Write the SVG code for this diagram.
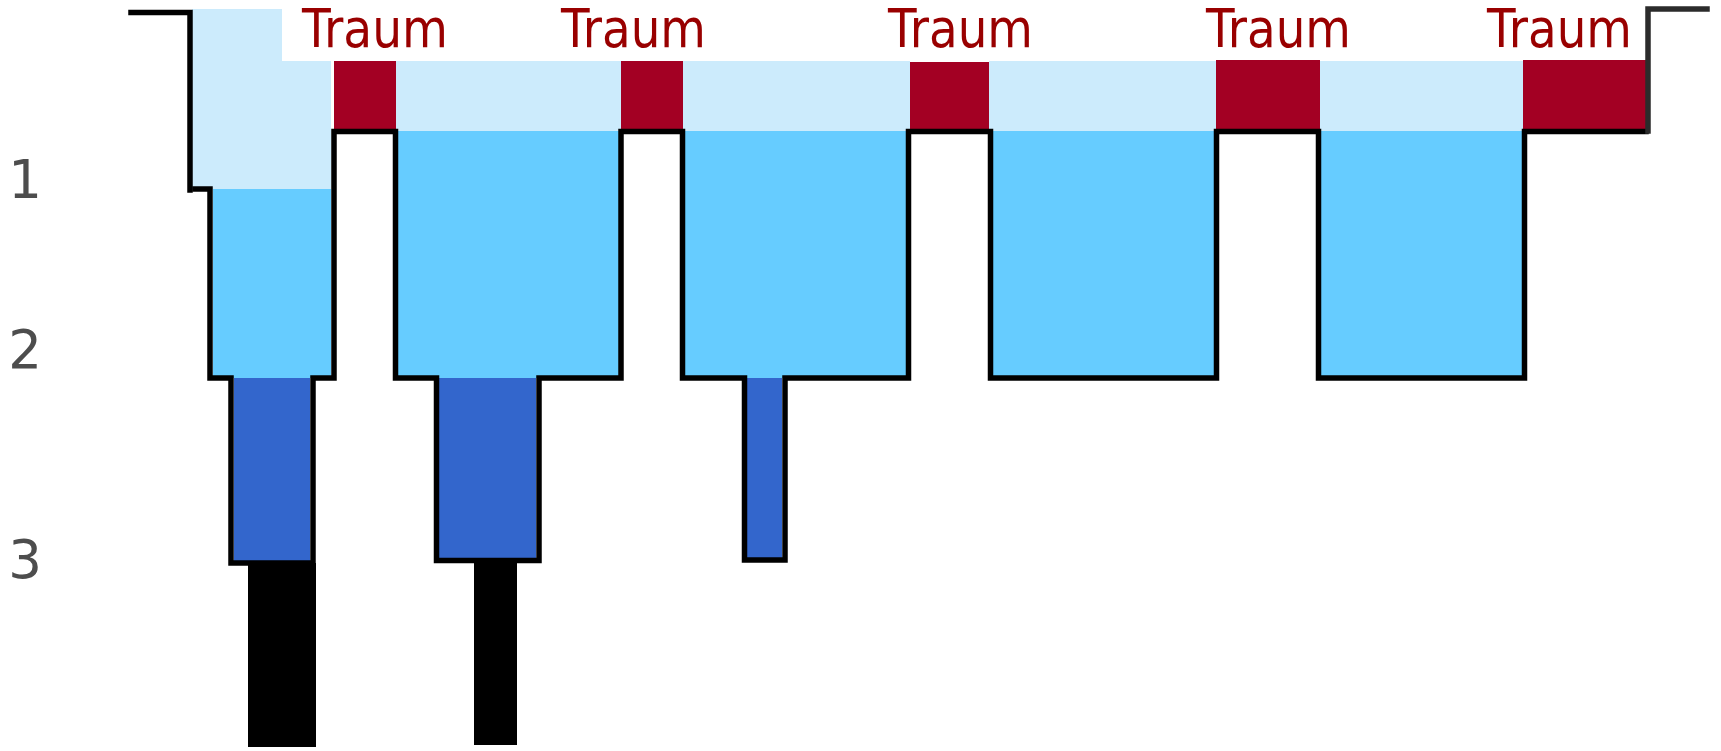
<svg xmlns="http://www.w3.org/2000/svg" width="1721" height="751" viewBox="0 0 1721 751">
<style>
.l1{fill:#CCEBFC}
.l2{fill:#66CCFF}
.l3{fill:#3366CC}
.l4{fill:#000000}
.rem{fill:#A30023}
.lbl{font-family:"DejaVu Sans","Liberation Sans",sans-serif;font-size:54px;fill:#990000}
.num{font-family:"DejaVu Sans","Liberation Sans",sans-serif;font-size:53px;fill:#4D4D4D;text-anchor:middle}
.line{fill:none;stroke:#000;stroke-width:5.5;stroke-linejoin:miter;stroke-linecap:square}
</style>
<rect width="1721" height="751" fill="#fff"/>
<g id="axis">
<text class="num" x="25" y="198">1</text>
<text class="num" x="25" y="368">2</text>
<text class="num" x="25" y="578">3</text>
</g>
<g id="cycle1">
<polygon class="l1" points="192,9 282,9 282,61 331,61 331,189 192,189"/>
<rect class="l2" x="213" y="189" width="118" height="189"/>
<rect class="l3" x="234" y="378" width="76" height="185"/>
<rect class="l4" x="248" y="563" width="68" height="184"/>
</g>
<g id="rem1">
<rect class="rem" x="334" y="61" width="62" height="70"/>
<text class="lbl" x="302" y="47" textLength="146" lengthAdjust="spacingAndGlyphs">Traum</text>
</g>
<g id="cycle2">
<rect class="l1" x="396" y="61" width="225" height="70"/>
<rect class="l2" x="396" y="131" width="223" height="247"/>
<rect class="l3" x="439" y="378" width="97" height="182"/>
<rect class="l4" x="474" y="560" width="43" height="185"/>
</g>
<g id="rem2">
<rect class="rem" x="621" y="61" width="62" height="70"/>
<text class="lbl" x="561" y="47" textLength="145" lengthAdjust="spacingAndGlyphs">Traum</text>
</g>
<g id="cycle3">
<rect class="l1" x="683" y="61" width="227" height="70"/>
<rect class="l2" x="685" y="131" width="221" height="247"/>
<rect class="l3" x="747" y="378" width="35" height="180"/>
</g>
<g id="rem3">
<rect class="rem" x="910" y="62" width="79" height="69"/>
<text class="lbl" x="888" y="47" textLength="145" lengthAdjust="spacingAndGlyphs">Traum</text>
</g>
<g id="cycle4">
<rect class="l1" x="989" y="61" width="227" height="70"/>
<rect class="l2" x="993" y="131" width="221" height="247"/>
</g>
<g id="rem4">
<rect class="rem" x="1216" y="60" width="104" height="71"/>
<text class="lbl" x="1206" y="47" textLength="145" lengthAdjust="spacingAndGlyphs">Traum</text>
</g>
<g id="cycle5">
<rect class="l1" x="1320" y="61" width="205" height="70"/>
<rect class="l2" x="1321" y="131" width="201" height="247"/>
</g>
<g id="rem5">
<rect class="rem" x="1523" y="60" width="123" height="71"/>
<text class="lbl" x="1487" y="47" textLength="145" lengthAdjust="spacingAndGlyphs">Traum</text>
</g>
<g id="connectors">
<path class="line" d="M131,12.5 H190 V190"/>
<path class="line" d="M195,189 H210 V378 H231 V563 H313 V378 H334 V131.5 H395.5 V378 H436.5 V560.5 H539 V378 H621 V131.5 H682.5 V378 H744.5 V560 H785 V378 H908.5 V131.5 H990.5 V378 H1216.5 V131.5 H1318.5 V378 H1524.5 V131.5 H1646"/>
<path class="line" d="M1648,131 V9 H1707" style="stroke:#2B2B2B"/>
</g>
</svg>
